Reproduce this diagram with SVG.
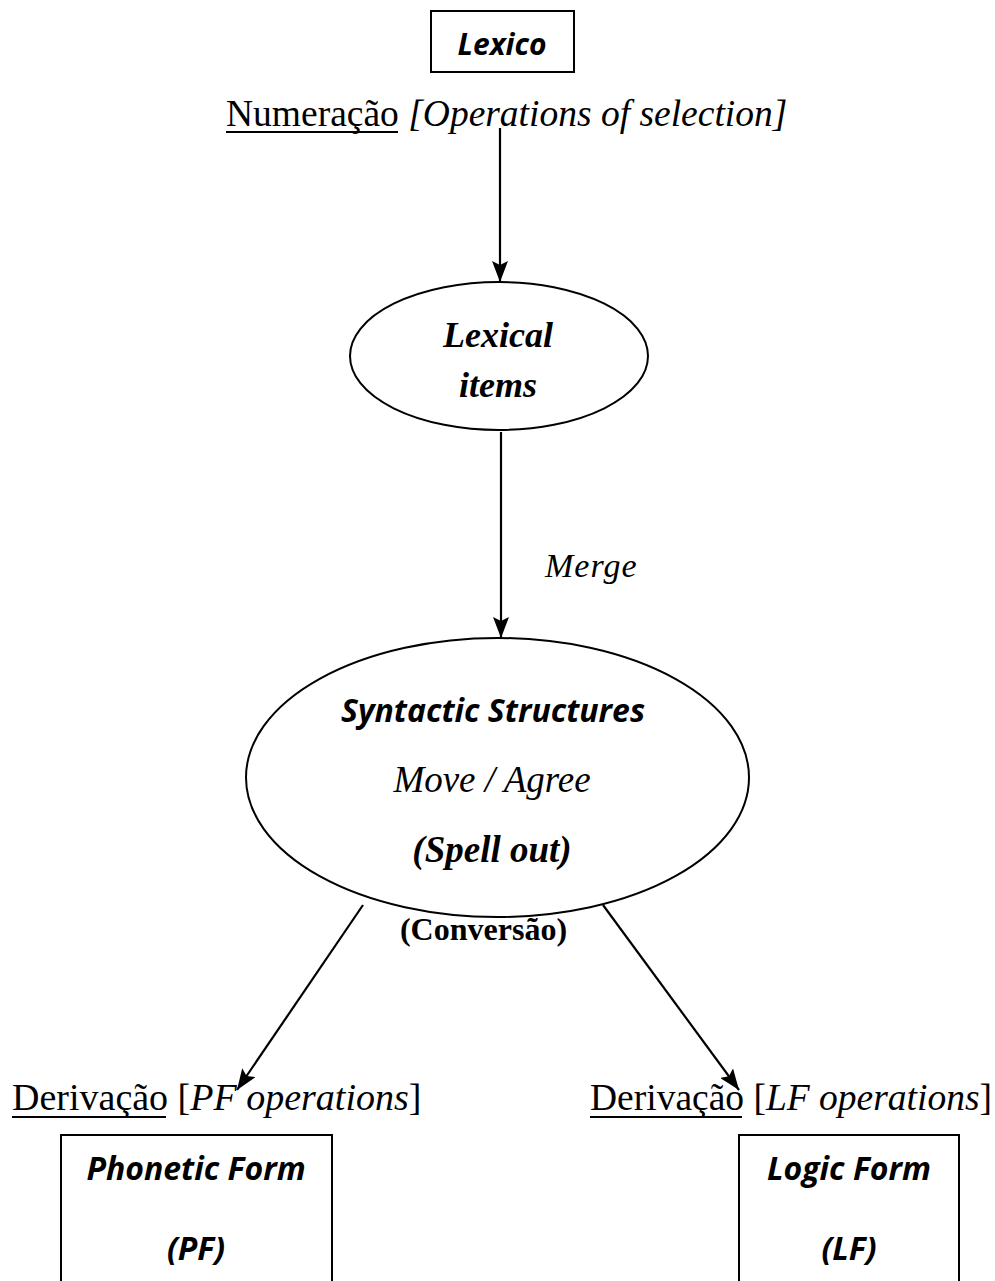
<svg xmlns="http://www.w3.org/2000/svg" width="995" height="1281" viewBox="0 0 995 1281">
  <defs>
    <marker id="arrow" markerUnits="userSpaceOnUse" markerWidth="22" markerHeight="16" viewBox="0 0 22 16" refX="21" refY="8" orient="auto">
      <path d="M0,0 L21,8 L0,16 L4,8 Z" fill="#000"/>
    </marker>
    <style>
      .shape { fill: #fff; stroke: #000; stroke-width: 2; }
      .edge { fill: none; stroke: #000; stroke-width: 2.2; }
      .ul { stroke: #000; stroke-width: 2; }
      .sans { font-family: "Open Sans", "Liberation Sans", sans-serif; font-weight: bold; font-style: italic; fill: #000; }
      .serif { font-family: "Liberation Serif", "Times New Roman", serif; fill: #000; }
      .it { font-style: italic; }
      .bd { font-weight: bold; }
    </style>
  </defs>
  <rect width="995" height="1281" fill="#fff"/>

  <!-- connectors -->
  <g id="connectors">
    <line class="edge" x1="500" y1="128" x2="500" y2="282" marker-end="url(#arrow)"/>
    <line class="edge" x1="501" y1="432" x2="501" y2="638" marker-end="url(#arrow)"/>
    <line class="edge" x1="363" y1="905" x2="237" y2="1090" marker-end="url(#arrow)"/>
    <line class="edge" x1="603" y1="905" x2="739" y2="1090" marker-end="url(#arrow)"/>
  </g>

  <!-- lexicon box -->
  <g id="lexico">
    <rect class="shape" x="431" y="11" width="143" height="61"/>
    <text class="sans" x="502" y="55" font-size="30" text-anchor="middle">Lexico</text>
  </g>

  <!-- numeration label -->
  <g id="numeracao">
    <text class="serif" x="226" y="126" font-size="37.5">Numeração <tspan class="it">[Operations of selection]</tspan></text>
    <line class="ul" x1="226" y1="132" x2="398" y2="132"/>
  </g>

  <!-- lexical items -->
  <g id="lexical-items">
    <ellipse class="shape" cx="499" cy="356" rx="149" ry="74"/>
    <text class="serif it bd" x="498" y="347" font-size="36" text-anchor="middle">Lexical</text>
    <text class="serif it bd" x="498" y="397" font-size="36" text-anchor="middle">items</text>
  </g>

  <!-- merge label -->
  <g id="merge">
    <text class="serif it" x="545" y="577" font-size="34" letter-spacing="1">Merge</text>
  </g>

  <!-- syntactic structures -->
  <g id="syntactic-structures">
    <ellipse class="shape" cx="497.5" cy="777.5" rx="251.5" ry="139.5"/>
    <text class="sans" x="493" y="722" font-size="32" text-anchor="middle">Syntactic Structures</text>
    <text class="serif it" x="492" y="792" font-size="37" text-anchor="middle">Move / Agree</text>
    <text class="serif it bd" x="492" y="862" font-size="37" text-anchor="middle">(Spell out)</text>
  </g>

  <!-- conversion label -->
  <g id="conversao">
    <text class="serif bd" x="483.5" y="940" font-size="32" text-anchor="middle">(Conversão)</text>
  </g>

  <!-- PF branch -->
  <g id="derivacao-pf">
    <text class="serif" x="12" y="1110" font-size="38">Derivação [<tspan class="it">PF operations</tspan>]</text>
    <line class="ul" x1="12" y1="1117" x2="166" y2="1117"/>
  </g>
  <g id="phonetic-form">
    <rect class="shape" x="61" y="1135" width="271" height="170"/>
    <text class="sans" x="196" y="1180" font-size="32" text-anchor="middle">Phonetic Form</text>
    <text class="sans" x="196" y="1260" font-size="32" text-anchor="middle">(PF)</text>
  </g>

  <!-- LF branch -->
  <g id="derivacao-lf">
    <text class="serif" x="590" y="1110" font-size="37.5">Derivação [<tspan class="it">LF operations</tspan>]</text>
    <line class="ul" x1="590" y1="1117" x2="742" y2="1117"/>
  </g>
  <g id="logic-form">
    <rect class="shape" x="739" y="1135" width="220" height="170"/>
    <text class="sans" x="849" y="1180" font-size="32" text-anchor="middle">Logic Form</text>
    <text class="sans" x="849" y="1260" font-size="32" text-anchor="middle">(LF)</text>
  </g>
</svg>
